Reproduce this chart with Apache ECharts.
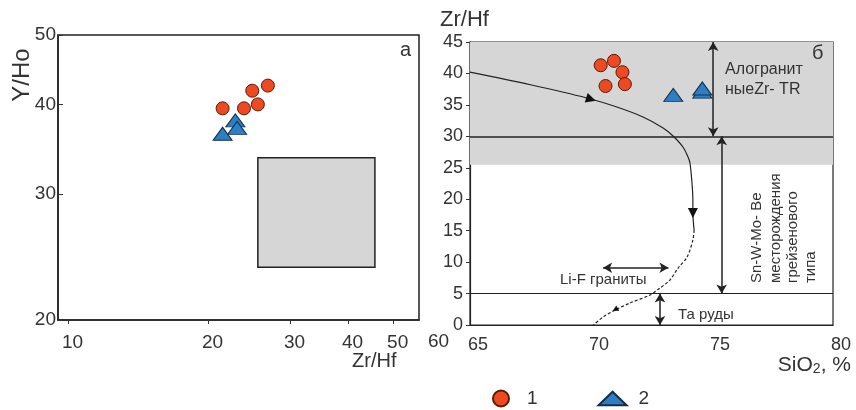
<!DOCTYPE html>
<html>
<head>
<meta charset="utf-8">
<script src="https://cdn.jsdelivr.net/npm/echarts@6/dist/echarts.min.js"></script>
<style>
html, body { margin: 0; padding: 0; background: #fff; }
#chart { width: 856px; height: 410px; }
</style>
</head>
<body>
<div id="chart"></div>
<script>
// panel а: Zr/Hf vs Y/Ho, log-log
const circlesA = [[21.5, 39.5], [23.9, 39.5], [24.9, 41.8], [25.6, 40.0], [26.9, 42.5]]
const trianglesA = [[22.9, 38.0], [23.1, 37.1], [21.5, 36.4]]
const fieldZrHf = [25.6, 45.7]
const fieldYHo = [23.7, 33.7]
const ticksZrHfA = [10, 20, 30, 40, 50]
const ticksYHo = [20, 30, 40, 50]

// panel б: SiO2 vs Zr/Hf
const circlesB = [[70.4, 41.3], [70.95, 42.0], [71.3, 40.2], [70.6, 38.0], [71.4, 38.3]]
const trianglesB = [[73.4, 36.6], [74.6, 37.1], [74.6, 37.6]]
const trendSolid = [[65, 40.2], [67.5, 38.2], [69.83, 36.1], [71.07, 34.66], [72.15, 33.07],
  [72.98, 31.32], [73.39, 30.05], [73.8, 28.3], [74.01, 26.7], [74.09, 25.76], [74.17, 22.7],
  [74.21, 19.9], [74.21, 17.8], [74.26, 15.1]]
const trendDashed = [[74.26, 15.1], [74.21, 13.5], [73.97, 10.8], [73.6, 9.06], [73.26, 7.15],
  [72.85, 5.88], [72.44, 4.77], [71.61, 3.5], [71.0, 2.38], [70.5, 1.27], [70.1, 0]]
const trendArrows = [[70.0, 35.9], [74.21, 17.8], [71.0, 2.45]]
const greyField = [25.5, 45]
const levels = [30, 5]
const arrowAlo = [[75.05, 45], [75.05, 30]]
const arrowGreisen = [[75.4, 30], [75.4, 5]]
const arrowLiF = [[70.5, 9.1], [73.2, 9.1]]
const arrowTa = [[72.85, 5], [72.85, 0]]

const RED = '#ee4a22'
const BLUE = '#2f7ec4'
const GREY = '#d5d6d5'
const TXT = '#333'
const FONT = 'Liberation Sans, Arial, sans-serif'
const arrowRotate = [-107, 180, 120]

const chart = echarts.init(document.getElementById('chart'))

function txt(text, x, y, size, extra) {
  return Object.assign({
    type: 'text',
    x: x,
    y: y,
    z: 100,
    style: {
      text: text,
      fill: TXT,
      font: size + 'px ' + FONT,
      align: 'left',
      verticalAlign: 'middle'
    }
  }, extra || {})
}

function pair(p) {
  return [{ coord: p[0] }, { coord: p[1] }]
}

chart.setOption({
  backgroundColor: '#fff',
  animation: false,
  textStyle: { fontFamily: FONT },
  grid: [
    {
      left: 58, top: 35, width: 361, height: 285,
      show: true, borderColor: '#222', borderWidth: 1.5, outerBoundsMode: 'none'
    },
    {
      left: 470, top: 42, width: 363, height: 283,
      show: true, borderColor: '#222', borderWidth: 1.2, outerBoundsMode: 'none'
    }
  ],
  xAxis: [
    {
      gridIndex: 0,
      type: 'log',
      logBase: 10,
      min: 9.517,
      max: 56.85,
      axisLine: { lineStyle: { color: '#222', width: 1.5 } },
      axisTick: { show: true, length: 4, customValues: ticksZrHfA, lineStyle: { color: '#333' } },
      axisLabel: {
        customValues: ticksZrHfA, color: TXT, fontSize: 19, margin: 13, align: 'left',
        padding: [0, 0, 0, -6]
      },
      splitLine: { show: false },
      minorTick: { show: false }
    },
    {
      gridIndex: 1,
      type: 'value',
      min: 65,
      max: 80,
      interval: 5,
      axisLine: { lineStyle: { color: '#222', width: 1.2 } },
      axisTick: { show: false },
      axisLabel: { color: TXT, fontSize: 18, margin: 11, align: 'left', padding: [0, 0, 0, -2] },
      splitLine: { show: false }
    }
  ],
  yAxis: [
    {
      gridIndex: 0,
      type: 'log',
      logBase: 10,
      min: 20,
      max: 50,
      axisLine: { lineStyle: { color: '#222', width: 1.5 } },
      axisTick: { show: true, inside: true, length: 5, customValues: ticksYHo, lineStyle: { color: '#333' } },
      axisLabel: { customValues: ticksYHo, color: TXT, fontSize: 19, margin: 2 },
      splitLine: { show: false },
      minorTick: { show: false }
    },
    {
      gridIndex: 1,
      type: 'value',
      min: 0,
      max: 45,
      interval: 5,
      axisLine: { lineStyle: { color: '#222', width: 1.2 } },
      axisTick: { show: true, length: 4, lineStyle: { color: '#333' } },
      axisLabel: { color: TXT, fontSize: 18, margin: 7 },
      splitLine: { show: false }
    }
  ],
  legend: {
    left: 487,
    top: 384,
    itemWidth: 28,
    itemHeight: 16,
    itemGap: 60,
    data: [
      { name: '1', icon: 'circle' },
      { name: '2', icon: 'path://M0,13L13.5,0L27,13Z' }
    ],
    textStyle: { color: TXT, fontSize: 19, padding: [0, 0, 10, 7] }
  },
  series: [
    {
      type: 'scatter',
      xAxisIndex: 0,
      yAxisIndex: 0,
      silent: true,
      data: [],
      markArea: {
        silent: true,
        itemStyle: { color: GREY, borderColor: '#222', borderWidth: 1.5 },
        data: [[{ coord: [fieldZrHf[0], fieldYHo[1]] }, { coord: [fieldZrHf[1], fieldYHo[0]] }]]
      }
    },
    {
      name: '1',
      type: 'scatter',
      xAxisIndex: 0,
      yAxisIndex: 0,
      symbol: 'circle',
      symbolSize: 13,
      itemStyle: { color: RED, borderColor: '#5a1a08', borderWidth: 1, opacity: 1 },
      data: circlesA,
      z: 5
    },
    {
      name: '2',
      type: 'scatter',
      xAxisIndex: 0,
      yAxisIndex: 0,
      symbol: 'triangle',
      symbolSize: [19, 13],
      itemStyle: { color: BLUE, borderColor: '#10304a', borderWidth: 1, opacity: 1 },
      data: trianglesA,
      z: 5
    },
    {
      type: 'line',
      xAxisIndex: 1,
      yAxisIndex: 1,
      silent: true,
      data: [],
      markArea: {
        silent: true,
        itemStyle: { color: GREY },
        data: [[{ yAxis: greyField[0] }, { yAxis: greyField[1] }]]
      },
      markLine: {
        silent: true,
        symbol: 'none',
        label: { show: false },
        lineStyle: { color: '#222', type: 'solid', width: 1.2 },
        data: levels.map((v, i) => ({ yAxis: v, lineStyle: { width: i === 0 ? 1.6 : 1.1 } }))
      }
    },
    {
      type: 'line',
      xAxisIndex: 1,
      yAxisIndex: 1,
      silent: true,
      data: [],
      markLine: {
        silent: true,
        symbol: ['arrow', 'arrow'],
        symbolSize: [8, 9],
        label: { show: false },
        lineStyle: { color: '#222', type: 'solid', width: 1.5 },
        data: [pair(arrowAlo), pair(arrowGreisen), pair(arrowLiF), pair(arrowTa)]
      },
      z: 4
    },
    {
      type: 'line',
      xAxisIndex: 1,
      yAxisIndex: 1,
      smooth: 0.3,
      showSymbol: false,
      silent: true,
      lineStyle: { color: '#222', width: 1.2 },
      data: trendSolid
    },
    {
      type: 'line',
      xAxisIndex: 1,
      yAxisIndex: 1,
      smooth: 0.3,
      showSymbol: false,
      silent: true,
      lineStyle: { color: '#222', width: 1.2, type: [3, 2] },
      data: trendDashed
    },
    {
      type: 'scatter',
      xAxisIndex: 1,
      yAxisIndex: 1,
      symbol: 'triangle',
      silent: true,
      itemStyle: { color: '#111', opacity: 1 },
      data: trendArrows.map((p, i) => ({
        value: p,
        symbolRotate: arrowRotate[i],
        symbolSize: i === 2 ? [6, 6] : [10, 10]
      })),
      z: 4
    },
    {
      name: '1',
      type: 'scatter',
      xAxisIndex: 1,
      yAxisIndex: 1,
      symbol: 'circle',
      symbolSize: 13,
      itemStyle: { color: RED, borderColor: '#5a1a08', borderWidth: 1, opacity: 1 },
      data: circlesB,
      z: 5
    },
    {
      name: '2',
      type: 'scatter',
      xAxisIndex: 1,
      yAxisIndex: 1,
      symbol: 'triangle',
      symbolSize: [19, 13],
      itemStyle: { color: BLUE, borderColor: '#10304a', borderWidth: 1, opacity: 1 },
      data: trianglesB,
      z: 5
    }
  ],
  graphic: [
    txt('Y/Ho', 22, 75, 24, { rotation: Math.PI / 2, style: { text: 'Y/Ho', fill: TXT, font: '24px ' + FONT, align: 'center', verticalAlign: 'middle' } }),
    txt('Zr/Hf', 352, 361, 20),
    txt('60', 428, 342, 19),
    txt('а', 400, 50, 20),
    txt('Zr/Hf', 440, 20, 22),
    {
      type: 'text',
      x: 851,
      y: 365,
      z: 100,
      style: {
        text: 'SiO{sub|2}, %',
        fill: TXT,
        font: '21px ' + FONT,
        align: 'right',
        verticalAlign: 'middle',
        rich: { sub: { fill: TXT, font: '14px ' + FONT, padding: [8, 0, 0, 0] } }
      }
    },
    txt('б', 812, 53, 20),
    txt('Алогранит', 725, 70, 16),
    txt('ныеZr- TR', 725, 90, 16),
    txt('Li-F граниты', 560, 280, 15),
    txt('Та руды', 678, 315, 15),
    txt('Sn-W-Mo- Be', 757, 283, 15, { rotation: Math.PI / 2 }),
    txt('месторождения', 776, 283, 15, { rotation: Math.PI / 2 }),
    txt('грейзенового', 793, 283, 15, { rotation: Math.PI / 2 }),
    txt('типа', 811, 283, 15, { rotation: Math.PI / 2 })
  ]
})
</script>
</body>
</html>
